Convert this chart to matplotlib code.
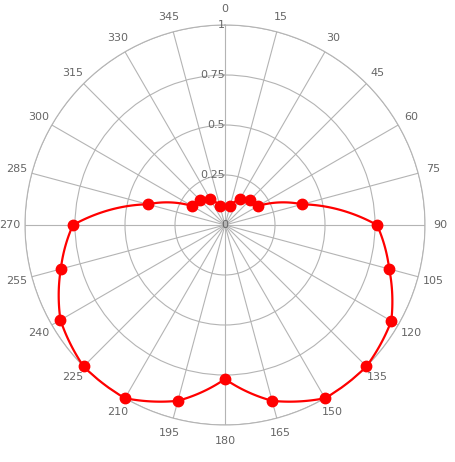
import numpy as np
import matplotlib
matplotlib.use("Agg")
import matplotlib.pyplot as plt

angles = [15, 30, 45, 60, 75, 90, 105, 120, 135, 150, 165, 180,
          195, 210, 225, 240, 255, 270, 285, 300, 315, 330, 345]
values = [0.10, 0.15, 0.18, 0.19, 0.40, 0.76, 0.85, 0.96, 1.00, 1.00, 0.91, 0.77,
          0.91, 1.00, 1.00, 0.95, 0.85, 0.76, 0.40, 0.19, 0.18, 0.15, 0.10]
angle_ticks = list(range(0, 360, 15))
radial_ticks = [0.25, 0.5, 0.75, 1.0]
radial_labels = ["0.25", "0.5", "0.75", "1"]

grid_col = "#b4b4b4"
text_col = "#666666"

fig = plt.figure(figsize=(4.55, 4.62), dpi=100)
ax = fig.add_axes([25 / 455, 37 / 462, 400 / 455, 400 / 462], projection="polar")
ax.set_theta_zero_location("N")
ax.set_theta_direction(-1)
ax.set_ylim(0, 1)
ax.set_thetagrids(angle_ticks, labels=[""] * len(angle_ticks))
ax.set_rgrids(radial_ticks, labels=[""] * len(radial_ticks))
ax.grid(True, color=grid_col, linewidth=0.8)
ax.spines["polar"].set_color(grid_col)
ax.spines["polar"].set_linewidth(0.8)

for a in angle_ticks:
    ax.text(np.deg2rad(a), 1.078, str(a), ha="center", va="center",
            fontsize=8, color=text_col, clip_on=False)
for r, lab in zip(radial_ticks, radial_labels):
    ax.text(0, r, lab, ha="right", va="center", fontsize=8, color=text_col)
ax.text(0, 0, "0", ha="center", va="center", fontsize=8, color=text_col)

th = np.deg2rad(angles)
th_line = np.append(th, th[0] + 2 * np.pi)
r_line = np.append(values, values[0])
line, = ax.plot(th_line, r_line, color="#ff0000", linewidth=1.6, zorder=3,
                clip_on=False)
line._path._interpolation_steps = 40
line.recache_always()
ax.plot(th, values, "o", color="#ff0000", markersize=7.5, zorder=4, clip_on=False)

fig.savefig("out.png", dpi=100)
